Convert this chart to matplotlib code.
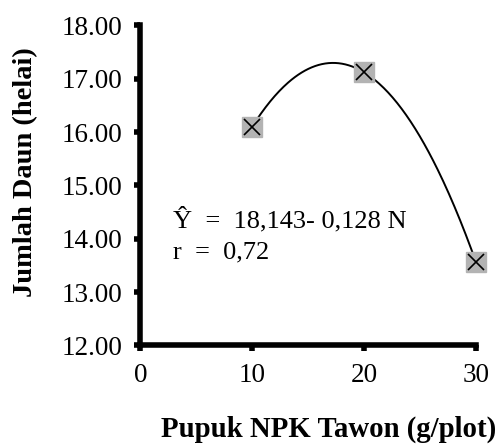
import numpy as np
import matplotlib
matplotlib.use("Agg")
import matplotlib.pyplot as plt

# data
dosis = [10, 20, 30]
jumlah_daun = [16.10, 17.12, 13.57]
y_ticks = [12, 13, 14, 15, 16, 17, 18]
x_ticks = [0, 10, 20, 30]

plt.rcParams['font.family'] = ['Liberation Serif', 'DejaVu Serif']

fig = plt.figure(figsize=(5.03, 4.44), dpi=100)
ax = fig.add_axes([0.279, 0.222, 0.667, 0.721])

# polynomial trendline
koef = np.polyfit(dosis, jumlah_daun, 2)
xs = np.linspace(min(dosis), max(dosis), 200)
ax.plot(xs, np.polyval(koef, xs), color='black', lw=1.4, zorder=2)

ax.plot(dosis, jumlah_daun, ls='none', marker='s', ms=14, mfc='#b3b3b3',
        mec='#b3b3b3', zorder=3, clip_on=False)
ax.plot(dosis, jumlah_daun, ls='none', marker='x', ms=11, mew=1.2,
        color='black', zorder=4, clip_on=False)

ax.set_xlim(0, 30)
ax.set_ylim(12, 18)
ax.set_xticks(x_ticks)
ax.set_yticks(y_ticks)
ax.set_yticklabels(['%.2f' % v for v in y_ticks])

for s in ['top', 'right']:
    ax.spines[s].set_visible(False)
for s in ['left', 'bottom']:
    ax.spines[s].set_linewidth(4)
ax.tick_params(axis='both', direction='out', length=4, width=4,
               labelsize=19.5, pad=9)

ax.set_ylabel('Jumlah Daun (helai)', fontsize=20.5, fontweight='bold')
ax.yaxis.set_label_coords(-0.305, 0.542)
fig.text(0.653, 0.016, 'Pupuk NPK Tawon (g/plot)', fontsize=20.7,
         fontweight='bold', ha='center', va='baseline')

ax.text(0.096, 0.369, 'Ŷ  =  18,143- 0,128 N', transform=ax.transAxes,
        fontsize=19, va='baseline', ha='left')
ax.text(0.096, 0.272, 'r  =  0,72', transform=ax.transAxes,
        fontsize=19, va='baseline', ha='left')

fig.savefig('out.png', dpi=100)
